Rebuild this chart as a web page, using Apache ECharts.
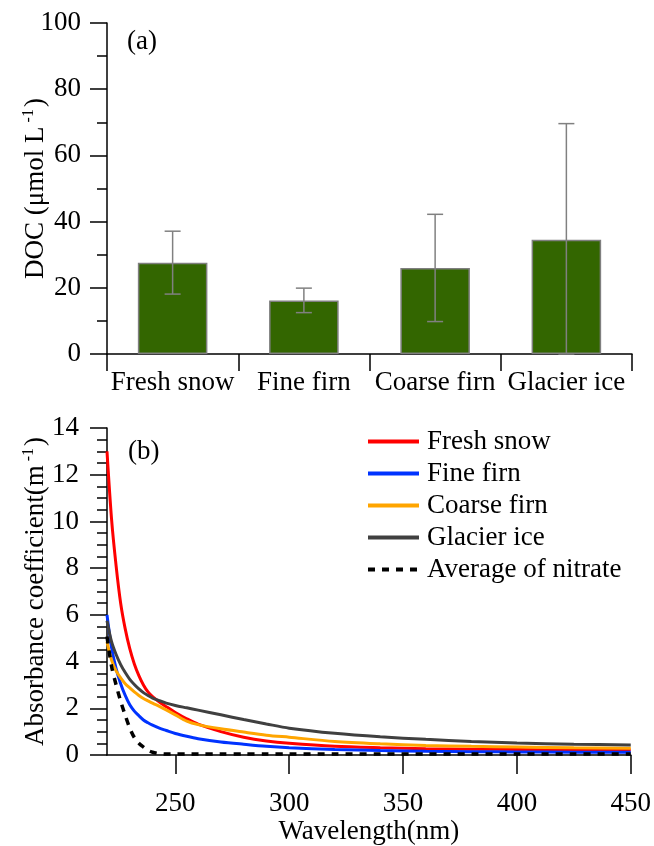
<!DOCTYPE html>
<html>
<head>
<meta charset="utf-8">
<title>DOC and absorbance</title>
<script src="https://cdn.jsdelivr.net/npm/echarts@6/dist/echarts.min.js"></script>
<style>
  html, body { margin: 0; padding: 0; background: #fff; }
  #chart { width: 654px; height: 846px; }
</style>
</head>
<body>
<div id="chart"></div>
<script>
// panel (a): DOC by sample type
const categories = ['Fresh snow', 'Fine firn', 'Coarse firn', 'Glacier ice'];
const docMean = [27.6, 16.2, 26.0, 34.5];
const docSd = [9.5, 3.7, 16.2, 35.1];

// panel (b): absorbance spectra
const wavelength = [220, 222, 224, 226, 228, 230, 232, 234, 236, 238, 240, 243, 246, 250, 255, 260, 270, 280, 290, 300, 320, 340, 360, 380, 400, 425, 450];
const freshSnow = [13.0, 10.1, 8.1, 6.5, 5.4, 4.55, 3.9, 3.4, 3.0, 2.7, 2.5, 2.27, 2.07, 1.82, 1.55, 1.32, 1.0, 0.76, 0.6, 0.5, 0.37, 0.31, 0.27, 0.25, 0.24, 0.22, 0.21];
const fineFirn = [6.0, 4.6, 3.7, 3.05, 2.55, 2.15, 1.88, 1.68, 1.5, 1.38, 1.28, 1.15, 1.05, 0.92, 0.8, 0.7, 0.56, 0.46, 0.37, 0.31, 0.24, 0.19, 0.16, 0.14, 0.13, 0.12, 0.12];
const coarseFirn = [4.85, 4.07, 3.6, 3.3, 3.05, 2.87, 2.7, 2.55, 2.42, 2.32, 2.22, 2.08, 1.93, 1.72, 1.45, 1.3, 1.12, 0.98, 0.85, 0.76, 0.58, 0.48, 0.41, 0.37, 0.34, 0.31, 0.29];
const glacierIce = [5.75, 4.85, 4.3, 3.87, 3.53, 3.24, 3.02, 2.83, 2.67, 2.55, 2.44, 2.33, 2.22, 2.12, 2.02, 1.92, 1.72, 1.52, 1.33, 1.15, 0.93, 0.78, 0.67, 0.58, 0.51, 0.46, 0.43];
const nitrateAvg = [5.07, 3.8, 3.0, 2.3, 1.7, 1.15, 0.75, 0.5, 0.34, 0.2, 0.12, 0.06, 0.04, 0.04, 0.04, 0.04, 0.04, 0.04, 0.04, 0.04, 0.04, 0.04, 0.04, 0.04, 0.04, 0.04, 0.04];
const wlTicks = [250, 300, 350, 400, 450];

const FONT = "'Liberation Serif', 'Times New Roman', serif";
const FS = 27;
const txt = { fontFamily: FONT, fontSize: FS, color: '#000' };
const axisLine = { show: true, lineStyle: { color: '#000', width: 1.5 } };
const nameRich = {
  a: { fontFamily: FONT, fontSize: FS, color: '#000', lineHeight: 30 },
  s: { fontFamily: FONT, fontSize: 16, color: '#000', verticalAlign: 'top', lineHeight: 30, padding: [0, 2, 0, 4] }
};

function pair (ys) {
  return wavelength.map((w, i) => [w, ys[i]]);
}

function lineSeries (name, ys, color, dash) {
  return {
    name: name,
    type: 'line',
    xAxisIndex: 1,
    yAxisIndex: 1,
    data: pair(ys),
    symbol: 'none',
    smooth: 0.3,
    lineStyle: { color: color, width: dash ? 3.5 : 3, type: dash ? [7, 7] : 'solid' },
    itemStyle: { color: color }
  };
}

function errorBar (params, api) {
  const idx = api.value(0);
  const mean = api.value(1);
  const sd = api.value(2);
  const hi = api.coord([idx, mean + sd]);
  const lo = api.coord([idx, Math.max(0, mean - sd)]);
  const cap = 8;
  const style = { stroke: '#808080', lineWidth: 1.5 };
  return {
    type: 'group',
    children: [
      { type: 'line', shape: { x1: hi[0], y1: hi[1], x2: lo[0], y2: lo[1] }, style: style },
      { type: 'line', shape: { x1: hi[0] - cap, y1: hi[1], x2: hi[0] + cap, y2: hi[1] }, style: style },
      { type: 'line', shape: { x1: lo[0] - cap, y1: lo[1], x2: lo[0] + cap, y2: lo[1] }, style: style }
    ]
  };
}

const chart = echarts.init(document.getElementById('chart'));
chart.setOption({
  animation: false,
  backgroundColor: '#fff',
  textStyle: { fontFamily: FONT },
  grid: [
    { left: 107, top: 23, width: 525, height: 331 },
    { left: 107, top: 428, width: 524, height: 327 }
  ],
  xAxis: [
    {
      type: 'category',
      gridIndex: 0,
      data: categories,
      axisLine: axisLine,
      axisTick: { show: true, length: 17, lineStyle: { color: '#000', width: 1.5 } },
      axisLabel: Object.assign({ interval: 0, margin: 15 }, txt),
      splitLine: { show: false }
    },
    {
      type: 'value',
      gridIndex: 1,
      min: 220,
      max: 450,
      axisLine: Object.assign({ onZero: false }, axisLine),
      axisTick: { show: true, length: 19, customValues: wlTicks, lineStyle: { color: '#000', width: 1.5 } },
      axisLabel: Object.assign({ margin: 35, customValues: wlTicks }, txt),
      splitLine: { show: false },
      name: 'Wavelength(nm)',
      nameLocation: 'middle',
      nameGap: 63,
      nameMoveOverlap: false,
      nameTextStyle: txt
    }
  ],
  yAxis: [
    {
      type: 'value',
      gridIndex: 0,
      min: 0,
      max: 100,
      interval: 20,
      axisLine: axisLine,
      axisTick: { show: true, length: 17, lineStyle: { color: '#000', width: 1.5 } },
      minorTick: { show: true, splitNumber: 2, length: 10, lineStyle: { color: '#000', width: 1.5 } },
      axisLabel: Object.assign({ margin: 26 }, txt),
      splitLine: { show: false },
      name: '{a|DOC (μmol L}{s|-1}{a|)}',
      nameLocation: 'middle',
      nameGap: 56,
      nameMoveOverlap: false,
      nameTextStyle: { rich: nameRich }
    },
    {
      type: 'value',
      gridIndex: 1,
      min: 0,
      max: 14,
      interval: 2,
      axisLine: axisLine,
      axisTick: { show: true, length: 17, lineStyle: { color: '#000', width: 1.5 } },
      minorTick: { show: true, splitNumber: 4, length: 10, lineStyle: { color: '#000', width: 1.5 } },
      axisLabel: Object.assign({ margin: 28 }, txt),
      splitLine: { show: false },
      name: '{a|Absorbance coefficient(m}{s|-1}{a|)}',
      nameLocation: 'middle',
      nameGap: 56,
      nameMoveOverlap: false,
      nameTextStyle: { rich: nameRich }
    }
  ],
  legend: {
    data: ['Fresh snow', 'Fine firn', 'Coarse firn', 'Glacier ice', 'Average of nitrate'],
    orient: 'vertical',
    left: 366,
    top: 428,
    padding: 0,
    itemWidth: 51,
    itemHeight: 2,
    itemGap: 5,
    itemStyle: { opacity: 0 },
    lineStyle: { width: 4 },
    textStyle: Object.assign({ lineHeight: 25, padding: [0, 0, 0, 3] }, txt)
  },
  graphic: [
    { type: 'text', left: 127, top: 28, style: { text: '(a)', font: FS + 'px ' + FONT, fill: '#000' } },
    { type: 'text', left: 128, top: 438, style: { text: '(b)', font: FS + 'px ' + FONT, fill: '#000' } }
  ],
  series: [
    {
      name: 'DOC',
      type: 'bar',
      xAxisIndex: 0,
      yAxisIndex: 0,
      data: docMean,
      barWidth: '53%',
      itemStyle: { color: '#336600', borderColor: '#7f7f7f', borderWidth: 1.5 }
    },
    {
      name: 'DOC sd',
      type: 'custom',
      xAxisIndex: 0,
      yAxisIndex: 0,
      data: docMean.map((m, i) => [i, m, docSd[i]]),
      renderItem: errorBar,
      z: 3
    },
    lineSeries('Fresh snow', freshSnow, '#ff0000'),
    lineSeries('Fine firn', fineFirn, '#0033ff'),
    lineSeries('Coarse firn', coarseFirn, '#ffa500'),
    lineSeries('Glacier ice', glacierIce, '#404040'),
    lineSeries('Average of nitrate', nitrateAvg, '#000000', true)
  ]
});
</script>
</body>
</html>
